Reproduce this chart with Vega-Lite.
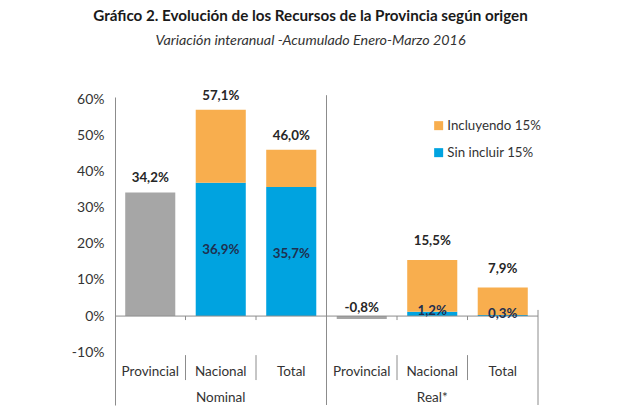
{
  "$schema": "https://vega.github.io/schema/vega-lite/v6.json",
  "width": 423,
  "height": 308,
  "autosize": {"type": "none"},
  "padding": {"left": 115, "top": 97, "right": 86, "bottom": 9},
  "title": {
    "text": "Gráfico 2. Evolución de los Recursos de la Provincia según origen",
    "subtitle": "Variación interanual -Acumulado Enero-Marzo 2016",
    "font": "Lato", "fontSize": 15.2, "fontWeight": "bold", "color": "#1a1a1a",
    "subtitleFont": "Lato", "subtitleFontSize": 14.3, "subtitleFontStyle": "italic", "subtitleColor": "#333333",
    "subtitlePadding": 10, "anchor": "middle", "offset": 40, "dx": -16
  },
  "datasets": {
    "bars": [
      {"cat": "N-Provincial", "serie": "Provincial", "lo": 0, "hi": 0.342},
      {"cat": "N-Nacional", "serie": "Sin incluir 15%", "lo": 0, "hi": 0.369},
      {"cat": "N-Nacional", "serie": "Incluyendo 15%", "lo": 0.369, "hi": 0.571},
      {"cat": "N-Total", "serie": "Sin incluir 15%", "lo": 0, "hi": 0.357},
      {"cat": "N-Total", "serie": "Incluyendo 15%", "lo": 0.357, "hi": 0.46},
      {"cat": "R-Provincial", "serie": "Provincial", "lo": 0, "hi": -0.008},
      {"cat": "R-Nacional", "serie": "Sin incluir 15%", "lo": 0, "hi": 0.012},
      {"cat": "R-Nacional", "serie": "Incluyendo 15%", "lo": 0.012, "hi": 0.155},
      {"cat": "R-Total", "serie": "Sin incluir 15%", "lo": 0, "hi": 0.003},
      {"cat": "R-Total", "serie": "Incluyendo 15%", "lo": 0.003, "hi": 0.079}
    ],
    "totals": [
      {"cat": "N-Provincial", "grupo": "Nominal", "total": 0.342},
      {"cat": "N-Nacional", "grupo": "Nominal", "total": 0.571},
      {"cat": "N-Total", "grupo": "Nominal", "total": 0.46},
      {"cat": "R-Provincial", "grupo": "Real", "total": -0.008},
      {"cat": "R-Nacional", "grupo": "Real", "total": 0.155},
      {"cat": "R-Total", "grupo": "Real", "total": 0.079}
    ],
    "inner": [
      {"cat": "N-Nacional", "grupo": "Nominal", "val": 0.369},
      {"cat": "N-Total", "grupo": "Nominal", "val": 0.357},
      {"cat": "R-Nacional", "grupo": "Real", "val": 0.012},
      {"cat": "R-Total", "grupo": "Real", "val": 0.003}
    ],
    "cats": [
      {"cat": "N-Provincial", "sub": "Provincial"},
      {"cat": "N-Nacional", "sub": "Nacional"},
      {"cat": "N-Total", "sub": "Total"},
      {"cat": "R-Provincial", "sub": "Provincial"},
      {"cat": "R-Nacional", "sub": "Nacional"},
      {"cat": "R-Total", "sub": "Total"}
    ],
    "grupos": [
      {"cat": "N-Nacional", "grupo": "Nominal"},
      {"cat": "R-Nacional", "grupo": "Real*"}
    ],
    "bounds": [
      {"cat": "N-Nacional"},
      {"cat": "N-Total"},
      {"cat": "R-Nacional"},
      {"cat": "R-Total"}
    ],
    "sep": [{"cat": "R-Provincial"}],
    "endsep": [{"cat": "R-Total"}],
    "one": [{"k": 1}]
  },
  "encoding": {
    "x": {
      "field": "cat", "type": "nominal", "axis": null,
      "scale": {"domain": ["N-Provincial", "N-Nacional", "N-Total", "R-Provincial", "R-Nacional", "R-Total"], "paddingInner": 0, "paddingOuter": 0}
    }
  },
  "layer": [
    {
      "data": {"name": "bars"},
      "transform": [{"filter": "datum.serie === 'Provincial'"}],
      "mark": {"type": "bar", "width": {"band": 0.71}, "color": "#A6A6A6"},
      "encoding": {
        "y": {"field": "lo", "type": "quantitative",
          "scale": {"domain": [-0.246, 0.606], "nice": false, "zero": false},
          "axis": {"values": [-0.1, 0, 0.1, 0.2, 0.3, 0.4, 0.5, 0.6], "format": ".0%", "title": null, "grid": false, "ticks": false,
            "labelPadding": 11, "labelFont": "Lato", "labelFontSize": 14, "labelColor": "#333333", "domainColor": "#8c8c8c"}},
        "y2": {"field": "hi"}
      }
    },
    {
      "data": {"name": "bars"},
      "transform": [{"filter": "datum.serie !== 'Provincial'"}],
      "mark": {"type": "bar", "width": {"band": 0.71}},
      "encoding": {
        "y": {"field": "lo", "type": "quantitative"},
        "y2": {"field": "hi"},
        "color": {"field": "serie", "type": "nominal",
          "scale": {"domain": ["Incluyendo 15%", "Sin incluir 15%"], "range": ["#F8AE4E", "#00A3E0"]},
          "legend": {"orient": "none", "legendX": 317, "legendY": 22, "title": null, "symbolType": "square", "symbolSize": 81,
            "symbolStrokeWidth": 0, "labelFont": "Lato", "labelFontSize": 13.3, "labelColor": "#333333", "rowPadding": 13, "labelOffset": 2}}
      }
    },
    {
      "data": {"name": "one"},
      "mark": {"type": "rule", "color": "#8c8c8c", "strokeWidth": 1},
      "encoding": {"x": null, "y": {"datum": 0, "type": "quantitative"}}
    },
    {
      "data": {"name": "bounds"},
      "mark": {"type": "rule", "color": "#8c8c8c", "strokeWidth": 1},
      "encoding": {"x": {"field": "cat", "type": "nominal", "bandPosition": 0}, "y": {"datum": 0, "type": "quantitative"}, "y2": {"datum": -0.011}}
    },
    {
      "data": {"name": "bounds"},
      "mark": {"type": "rule", "color": "#8c8c8c", "strokeWidth": 1},
      "encoding": {"x": {"field": "cat", "type": "nominal", "bandPosition": 0}, "y": {"datum": -0.108, "type": "quantitative"}, "y2": {"datum": -0.177}}
    },
    {
      "data": {"name": "sep"},
      "mark": {"type": "rule", "color": "#8c8c8c", "strokeWidth": 1},
      "encoding": {"x": {"field": "cat", "type": "nominal", "bandPosition": 0}, "y": {"datum": 0.611, "type": "quantitative"}, "y2": {"datum": -0.246}}
    },
    {
      "data": {"name": "endsep"},
      "mark": {"type": "rule", "color": "#8c8c8c", "strokeWidth": 1},
      "encoding": {"x": {"field": "cat", "type": "nominal", "bandPosition": 1}, "y": {"datum": 0.017, "type": "quantitative"}, "y2": {"datum": -0.246}}
    },
    {
      "data": {"name": "totals"},
      "transform": [{"filter": "datum.grupo === 'Nominal'"}],
      "mark": {"type": "text", "font": "Lato", "fontSize": 13.3, "fontWeight": "bold", "color": "#262626", "baseline": "middle", "dy": -14},
      "encoding": {"y": {"field": "total", "type": "quantitative"}, "text": {"field": "total", "type": "quantitative", "format": ".1%"}}
    },
    {
      "data": {"name": "totals"},
      "transform": [{"filter": "datum.grupo === 'Real' && datum.total > 0"}],
      "mark": {"type": "text", "font": "Lato", "fontSize": 13.3, "fontWeight": "bold", "color": "#262626", "baseline": "middle", "dy": -19},
      "encoding": {"y": {"field": "total", "type": "quantitative"}, "text": {"field": "total", "type": "quantitative", "format": ".1%"}}
    },
    {
      "data": {"name": "totals"},
      "transform": [{"filter": "datum.total < 0"}],
      "mark": {"type": "text", "font": "Lato", "fontSize": 13.3, "fontWeight": "bold", "color": "#262626", "baseline": "middle", "dy": -8},
      "encoding": {"y": {"datum": 0, "type": "quantitative"}, "text": {"field": "total", "type": "quantitative", "format": ".1%"}}
    },
    {
      "data": {"name": "inner"},
      "transform": [{"filter": "datum.grupo === 'Nominal'"}],
      "mark": {"type": "text", "font": "Lato", "fontSize": 13.3, "fontWeight": "bold", "color": "#1F3050", "baseline": "middle", "dy": 67},
      "encoding": {"y": {"field": "val", "type": "quantitative"}, "text": {"field": "val", "type": "quantitative", "format": ".1%"}}
    },
    {
      "data": {"name": "inner"},
      "transform": [{"filter": "datum.grupo === 'Real'"}],
      "mark": {"type": "text", "font": "Lato", "fontSize": 13.3, "fontWeight": "bold", "color": "#1F3050", "baseline": "middle", "dy": -1},
      "encoding": {"y": {"field": "val", "type": "quantitative"}, "text": {"field": "val", "type": "quantitative", "format": ".1%"}}
    },
    {
      "data": {"name": "cats"},
      "mark": {"type": "text", "font": "Lato", "fontSize": 13.5, "color": "#333333", "baseline": "middle"},
      "encoding": {"y": {"datum": -0.155, "type": "quantitative"}, "text": {"field": "sub"}}
    },
    {
      "data": {"name": "grupos"},
      "mark": {"type": "text", "font": "Lato", "fontSize": 13.5, "color": "#333333", "baseline": "middle"},
      "encoding": {"y": {"datum": -0.227, "type": "quantitative"}, "text": {"field": "grupo"}}
    }
  ],
  "config": {
    "view": {"stroke": null},
    "locale": {"number": {"decimal": ",", "thousands": ".", "grouping": [3], "currency": ["$", ""], "minus": "-"}}
  }
}
